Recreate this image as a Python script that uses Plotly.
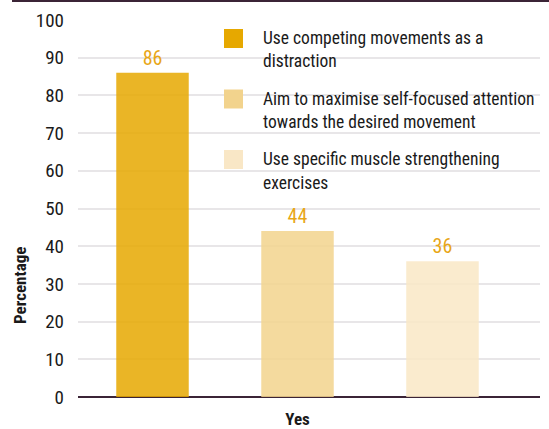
import plotly.graph_objects as go

categories = ["Yes"]
series_lines = [
    ["Use competing movements as a", "distraction"],
    ["Aim to maximise self-focused attention", "towards the desired movement"],
    ["Use specific muscle strengthening", "exercises"],
]
series_names = [" ".join(lines) for lines in series_lines]
series_values = [86, 44, 36]
series_colors = ["#E6A800", "#F2D38D", "#F9E7C6"]
y_ticks = [0, 10, 20, 30, 40, 50, 60, 70, 80, 90, 100]

FONT = "Roboto Condensed, Roboto, sans-serif"
LABEL_COLOR = "#E8A617"
TEXT = "#1a1a1a"
DARK = "#3B2436"

W, H = 549, 429
ML, MR, MT, MB = 78, 9, 20, 32
PW, PH = W - ML - MR, H - MT - MB


def px_x(x):
    return (x - ML) / PW


def px_y(y):
    return 1 - (y - MT) / PH


fig = go.Figure()
for name, val, col in zip(series_names, series_values, series_colors):
    fig.add_trace(go.Bar(
        x=categories, y=[val], name=name,
        marker=dict(color=col, opacity=0.85, line=dict(width=0)),
        text=[str(val)], textposition="outside",
        textfont=dict(color=LABEL_COLOR, size=20, family=FONT),
        cliponaxis=False, showlegend=False,
    ))

# legend: coloured squares with two-line labels
for i, (lines, col) in enumerate(zip(series_lines, series_colors)):
    top = 29 + i * 60.5
    fig.add_shape(type="rect", xref="paper", yref="paper",
                  x0=px_x(224), x1=px_x(243), y0=px_y(top), y1=px_y(top + 19),
                  fillcolor=col, line=dict(width=0), layer="above")
    for j, line in enumerate(lines):
        fig.add_annotation(xref="paper", yref="paper",
                           x=px_x(261), y=px_y(top + 9 + j * 23.5),
                           xanchor="left", yanchor="middle", align="left",
                           text=line, showarrow=False,
                           font=dict(size=17.5, color=TEXT, family=FONT))

# y-axis title
fig.add_annotation(xref="paper", yref="paper", x=px_x(20), y=px_y(286),
                   xanchor="center", yanchor="middle", textangle=-90,
                   text="Percentage", showarrow=False,
                   font=dict(size=17, color=TEXT, family=FONT, weight="bold"))

# dark rule across the top
fig.add_shape(type="line", xref="paper", yref="paper",
              x0=px_x(12), x1=px_x(549), y0=px_y(1), y1=px_y(1),
              line=dict(color=DARK, width=2))

fig.update_layout(
    width=W, height=H,
    margin=dict(l=ML, r=MR, t=MT, b=MB),
    paper_bgcolor="white", plot_bgcolor="white",
    barmode="group", bargap=0.0, bargroupgap=0.5,
    font=dict(family=FONT, size=19, color=TEXT),
    xaxis=dict(range=[-0.5046, 0.5575], showgrid=False, showline=False,
               ticks="", tickfont=dict(size=17, family=FONT, weight="bold"),
               ticklabelstandoff=10, zeroline=False, automargin=False),
    yaxis=dict(range=[0, 100], tickvals=y_ticks, showgrid=True,
               gridcolor="#E8E6E8", gridwidth=2, zeroline=True,
               zerolinecolor=DARK, zerolinewidth=2, showline=False,
               ticks="", ticklabelstandoff=13, automargin=False,
               tickfont=dict(size=19, family=FONT, color=TEXT)),
)

fig.write_html("out.html")
